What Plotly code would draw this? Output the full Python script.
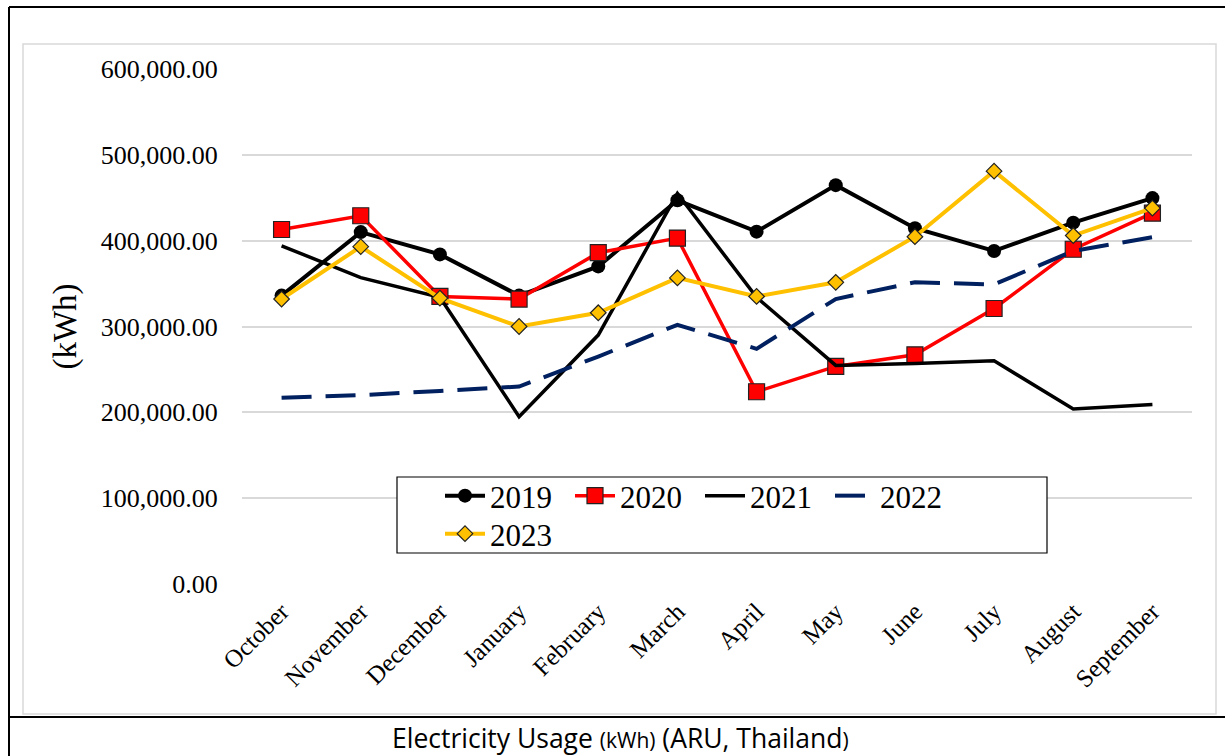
import plotly.graph_objects as go

months = ["October", "November", "December", "January", "February", "March",
          "April", "May", "June", "July", "August", "September"]
y2019 = [336000, 410000, 384000, 336000, 370000, 447000, 410500, 464700, 414500, 388000, 421000, 449600]
y2020 = [413000, 429000, 335000, 332000, 386000, 403000, 224000, 253500, 267000, 321000, 390000, 432000]
y2021 = [394000, 357000, 334000, 195000, 290000, 455000, 334000, 254700, 257000, 260000, 204000, 209000]
y2022 = [217000, 220000, 225000, 230000, 265000, 302000, 274000, 332000, 351500, 349000, 388000, 404000]
y2023 = [332000, 393000, 333000, 300000, 316000, 356600, 335000, 351500, 404600, 481000, 406000, 438000]
y_ticks = [0, 100000, 200000, 300000, 400000, 500000, 600000]

W, H = 1225, 756
L, R, T, B = 242, 1192, 69, 584
pw, ph = R - L, B - T

def px(x):
    return (x - L) / pw

def py(y):
    return (B - y) / ph

serif = "Liberation Serif"

fig = go.Figure()
fig.add_trace(go.Scatter(x=months, y=y2019, name="2019", mode="lines+markers",
                         line=dict(color="black", width=4),
                         marker=dict(symbol="circle", size=14, color="black"),
                         legend="legend"))
fig.add_trace(go.Scatter(x=months, y=y2020, name="2020", mode="lines+markers",
                         line=dict(color="#FF0000", width=3.5),
                         marker=dict(symbol="square", size=16, color="#FF0000",
                                     line=dict(color="#222222", width=1.2)),
                         legend="legend"))
fig.add_trace(go.Scatter(x=months, y=y2021, name="2021", mode="lines",
                         line=dict(color="black", width=3.5),
                         legend="legend"))
fig.add_trace(go.Scatter(x=months, y=y2022, name="2022", mode="lines",
                         line=dict(color="#002060", width=4, dash="30px,14px"),
                         legend="legend"))
fig.add_trace(go.Scatter(x=months, y=y2023, name="2023", mode="lines+markers",
                         line=dict(color="#FFC000", width=4),
                         marker=dict(symbol="diamond", size=12, color="#FFC000",
                                     line=dict(color="#222222", width=1.2)),
                         legend="legend2"))

shapes = [
    dict(type="rect", xref="paper", yref="paper", x0=px(23), x1=px(1216), y0=py(714), y1=py(44),
         line=dict(color="#d9d9d9", width=1.5), layer="below"),
    dict(type="line", xref="paper", yref="paper", x0=px(9), x1=px(1226), y0=py(7), y1=py(7),
         line=dict(color="black", width=2)),
    dict(type="line", xref="paper", yref="paper", x0=px(9), x1=px(9), y0=py(7), y1=py(757),
         line=dict(color="black", width=2)),
    dict(type="line", xref="paper", yref="paper", x0=px(9), x1=px(1226), y0=py(717), y1=py(717),
         line=dict(color="black", width=2)),
    dict(type="rect", xref="paper", yref="paper", x0=px(397), x1=px(1047), y0=py(553), y1=py(477),
         line=dict(color="black", width=1.2), fillcolor="white", layer="above"),
]

fig.update_layout(
    width=W, height=H,
    margin=dict(l=L, r=W - R, t=T, b=H - B),
    paper_bgcolor="white", plot_bgcolor="white",
    font=dict(family=serif, color="black"),
    shapes=shapes,
    legend=dict(orientation="h", x=px(440), y=py(469), xanchor="left", yanchor="top",
                bgcolor="rgba(0,0,0,0)", borderwidth=0, font=dict(size=31, family=serif),
                entrywidth=75, entrywidthmode="pixels", itemwidth=40),
    legend2=dict(orientation="h", x=px(440), y=py(507), xanchor="left", yanchor="top",
                 bgcolor="rgba(0,0,0,0)", borderwidth=0, font=dict(size=31, family=serif),
                 itemwidth=40),
    annotations=[
        dict(xref="paper", yref="paper", x=px(620), y=py(738), xanchor="center", yanchor="middle",
             showarrow=False,
             text='Electricity Usage <span style="font-size:21px">(kWh)</span> (ARU, Thailand<span style="font-size:21px">)</span>',
             font=dict(family="Open Sans", size=26.5, color="black")),
    ],
)

fig.update_xaxes(showgrid=False, showline=False, zeroline=False,
                 tickangle=-45, tickfont=dict(size=25, family=serif),
                 ticks="outside", ticklen=2, tickcolor="rgba(0,0,0,0)",
                 range=[-0.5, 11.5])
fig.update_yaxes(range=[0, 600000], tickvals=y_ticks, tickformat=",.2f",
                 showgrid=True, gridcolor="#d9d9d9", gridwidth=1.5,
                 zeroline=False, showline=False,
                 ticks="outside", ticklen=18, tickcolor="rgba(0,0,0,0)",
                 tickfont=dict(size=26, family=serif),
                 title=dict(text="(kWh)", font=dict(size=33, family=serif), standoff=14))

fig.write_html("out.html", post_script="document.body.style.margin='0';",
               config={"displayModeBar": False})
